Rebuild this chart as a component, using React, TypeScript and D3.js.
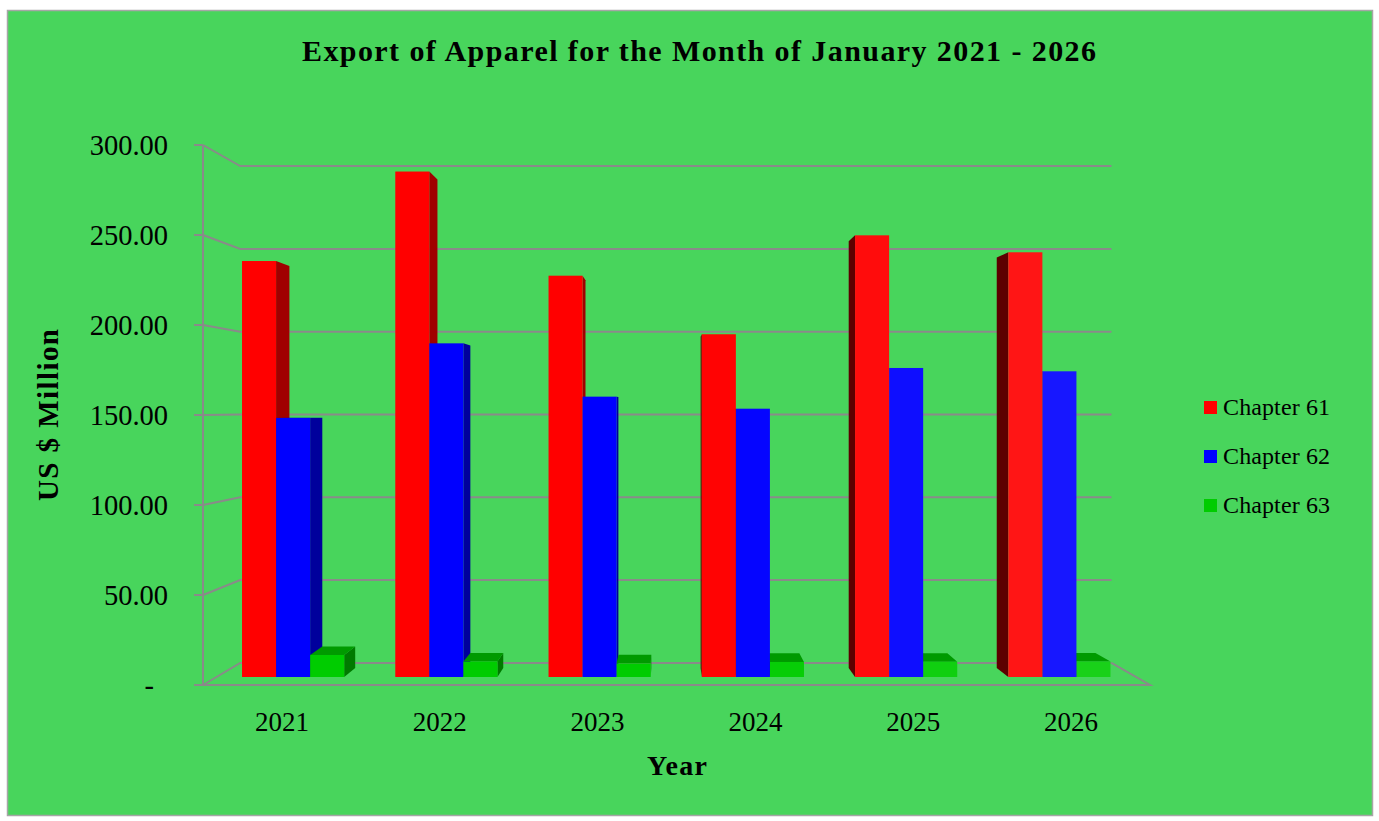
import React from 'react';
import * as d3 from 'd3';

const years = ['2021', '2022', '2023', '2024', '2025', '2026'];
const chapter61 = [238.0, 289.2, 229.6, 196.1, 252.7, 243.0];
const chapter62 = [148.2, 190.9, 160.4, 153.5, 176.8, 174.9];
const chapter63 = [12.6, 8.8, 7.8, 8.6, 8.7, 8.8];
const seriesNames = ['Chapter 61', 'Chapter 62', 'Chapter 63'];
const yTicks = [0, 50, 100, 150, 200, 250, 300];

const W = 1379;
const H = 821;
const BG = '#48d55c';
const GRID = '#8a8a8a';
const FONT = '"Liberation Serif", "Times New Roman", serif';

const palette = [
  { front: '#ff0000', right: '#a00000', left: '#5c0000', top: '#c00000' },
  { front: '#0000ff', right: '#00009c', left: '#000060', top: '#0000c0' },
  { front: '#00cc00', right: '#007a00', left: '#005500', top: '#009a00' },
];

// perspective: vanishing point and depth scales
const VP: [number, number] = [668, 409];
const S_BACK = 0.92;
const S_BAR_FRONT = 0.971;
const S_BAR_BACK = 0.938;

function proj(X: number, Y: number, s: number): [number, number] {
  return [VP[0] + (X - VP[0]) * s, VP[1] + (Y - VP[1]) * s];
}
function pts(arr: [number, number][]) {
  return arr.map((p) => `${p[0].toFixed(2)},${p[1].toFixed(2)}`).join(' ');
}

export default function App() {
  const x = d3.scaleBand<string>().domain(years).range([203, 1150]).padding(0);
  const y = d3.scaleLinear().domain([0, 300]).range([685, 145]);
  const series = [chapter61, chapter62, chapter63];
  const bw = x.bandwidth() / 4.5;
  const groupOffset = (x.bandwidth() - 3 * bw) / 2;

  type Bar = { X0: number; X1: number; v: number; si: number; key: string };
  const bars: Bar[] = [];
  years.forEach((yr, i) => {
    series.forEach((vals, si) => {
      const X0 = (x(yr) as number) + groupOffset + si * bw;
      bars.push({ X0, X1: X0 + bw, v: vals[i], si, key: `${yr}-${si}` });
    });
  });
  bars.sort(
    (a, b) =>
      Math.abs((b.X0 + b.X1) / 2 - VP[0]) - Math.abs((a.X0 + a.X1) / 2 - VP[0])
  );

  const x0 = 203;
  const x1 = 1150;
  const Y0 = y(0);

  return (
    <svg
      width={W}
      height={H}
      style={{ position: 'absolute', left: 0, top: 0, background: '#ffffff' }}
    >
      <rect x={7.5} y={10.5} width={1365} height={805} fill={BG} stroke="#a6a6a6" strokeWidth={1.5} />
      <text
        x={699}
        y={61}
        textAnchor="middle"
        fontFamily={FONT}
        fontWeight="bold"
        fontSize={30}
        textLength={794}
        lengthAdjust="spacing"
        fill="#000"
      >
        Export of Apparel for the Month of January 2021 - 2026
      </text>

      {/* walls & grid */}
      <g stroke={GRID} strokeWidth={2} fill="none">
        {yTicks.map((t) => {
          const Yt = y(t);
          const a = proj(x0, Yt, 1);
          const b = proj(x0, Yt, S_BACK);
          const c = proj(x1, Yt, S_BACK);
          return (
            <g key={t}>
              <line x1={194} y1={Yt} x2={x0} y2={Yt} />
              <polyline points={pts([a, b, c])} />
            </g>
          );
        })}
        <line x1={x0} y1={y(300)} x2={x0} y2={Y0} />
        <polyline points={pts([proj(x1, Y0, S_BACK), proj(x1, Y0, 1), proj(x0, Y0, 1)])} />
      </g>

      {/* bars */}
      {bars.map((b) => {
        const c = palette[b.si];
        const Y1 = y(b.v);
        const faces: JSX.Element[] = [];
        const lighten = Math.max(0, ((b.X0 + b.X1) / 2 - VP[0]) / (x1 - VP[0])) * 0.11;
        const frontColor = d3.interpolateRgb(c.front, '#ffffff')(lighten);
        if (b.X1 < VP[0]) {
          faces.push(
            <polygon
              key="r"
              points={pts([
                proj(b.X1, Y1, S_BAR_FRONT),
                proj(b.X1, Y1, S_BAR_BACK),
                proj(b.X1, Y0, S_BAR_BACK),
                proj(b.X1, Y0, S_BAR_FRONT),
              ])}
              fill={c.right}
            />
          );
        }
        if (b.X0 > VP[0]) {
          faces.push(
            <polygon
              key="l"
              points={pts([
                proj(b.X0, Y1, S_BAR_FRONT),
                proj(b.X0, Y1, S_BAR_BACK),
                proj(b.X0, Y0, S_BAR_BACK),
                proj(b.X0, Y0, S_BAR_FRONT),
              ])}
              fill={c.left}
            />
          );
        }
        if (Y1 > VP[1]) {
          faces.push(
            <polygon
              key="t"
              points={pts([
                proj(b.X0, Y1, S_BAR_FRONT),
                proj(b.X1, Y1, S_BAR_FRONT),
                proj(b.X1, Y1, S_BAR_BACK),
                proj(b.X0, Y1, S_BAR_BACK),
              ])}
              fill={c.top}
            />
          );
        }
        const fa = proj(b.X0, Y1, S_BAR_FRONT);
        const fb = proj(b.X1, Y0, S_BAR_FRONT);
        faces.push(
          <rect
            key="f"
            x={fa[0]}
            y={fa[1]}
            width={fb[0] - fa[0]}
            height={fb[1] - fa[1]}
            fill={frontColor}
          />
        );
        return <g key={b.key}>{faces}</g>;
      })}

      {/* y tick labels */}
      <g fontFamily={FONT} fontSize={28.5} fill="#000">
        {yTicks.map((t) => (
          <text
            key={t}
            x={t === 0 ? 154 : 168}
            y={y(t)}
            dy="0.35em"
            textAnchor="end"
          >
            {t === 0 ? '-' : d3.format('.2f')(t)}
          </text>
        ))}
      </g>

      {/* x labels */}
      <g fontFamily={FONT} fontSize={27} fill="#000">
        {years.map((yr) => (
          <text key={yr} x={(x(yr) as number) + x.bandwidth() / 2} y={731} textAnchor="middle">
            {yr}
          </text>
        ))}
      </g>

      <text
        x={677}
        y={775}
        textAnchor="middle"
        fontFamily={FONT}
        fontWeight="bold"
        fontSize={28}
        textLength={60}
        lengthAdjust="spacing"
      >
        Year
      </text>
      <text
        transform="translate(58,415) rotate(-90)"
        textAnchor="middle"
        fontFamily={FONT}
        fontWeight="bold"
        fontSize={29}
        textLength={172}
        lengthAdjust="spacing"
      >
        US $ Million
      </text>

      {/* legend */}
      <g fontFamily={FONT} fontSize={24} fill="#000">
        {seriesNames.map((n, i) => (
          <g key={n} transform={`translate(1204,${401 + i * 49})`}>
            <rect width={13} height={13} fill={palette[i].front} />
            <text x={19} y={13.5} textLength={107} lengthAdjust="spacing">
              {n}
            </text>
          </g>
        ))}
      </g>
    </svg>
  );
}
